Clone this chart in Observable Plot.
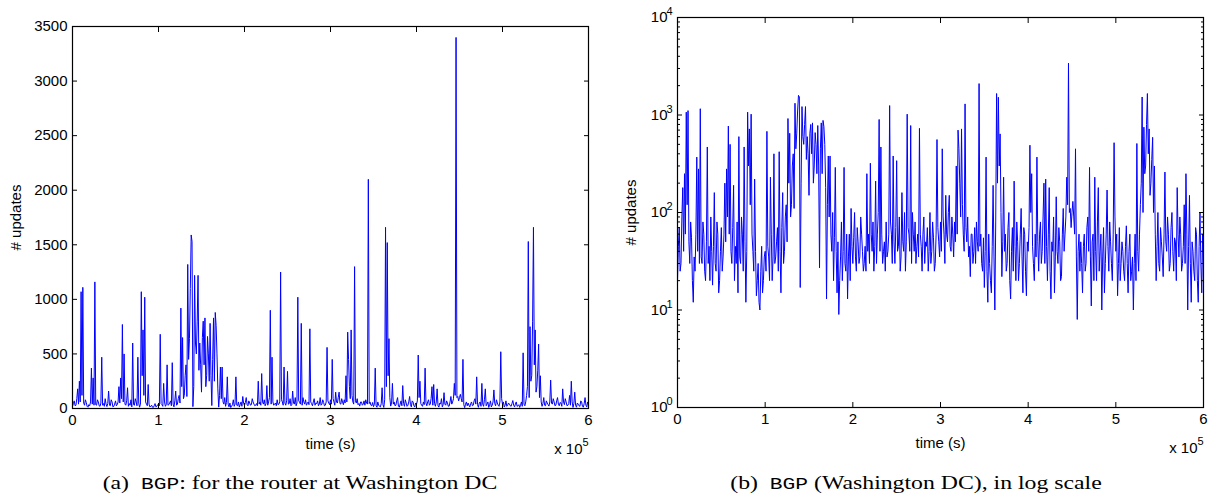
<!DOCTYPE html>
<html><head><meta charset="utf-8">
<script src="https://cdn.jsdelivr.net/npm/d3@7"></script>
<script src="https://cdn.jsdelivr.net/npm/@observablehq/plot@0.6"></script>
<style>
body{margin:0;background:#fff;width:1210px;height:497px;position:relative;overflow:hidden;font-family:"Liberation Sans",Arial,sans-serif}
.panel{position:absolute;top:0}
.cap{position:absolute;top:473px;font-family:"Liberation Serif","Times New Roman",serif;font-size:19px;line-height:20px;white-space:nowrap;transform:translateX(-50%) scaleX(1.25);color:#000}
.mono{font-family:"Liberation Mono","DejaVu Sans Mono",monospace;font-size:17px}
</style></head><body>
<div id="left" class="panel" style="left:0"></div>
<div id="right" class="panel" style="left:605px"></div>
<div class="cap" style="left:300px">(a)&nbsp; <span class="mono">BGP</span>: for the router at Washington DC</div>
<div class="cap" style="left:916px">(b)&nbsp; <span class="mono">BGP</span> (Washington DC), in log scale</div>
<script>
// sampling interval of the series (seconds)
const STEP = 1000;
// number of BGP updates per interval, router at Washington DC (t = 0 ... 6e5 s)
const updates = [
  20,45, 70,25, 30,90, 180,40, 250,60, 1070,120, 1110,50, 30,80, 55,20, 12,35,
  25,60, 370,40, 280,30, 1160,35, 30,80, 60,25, 20,50, 470,30, 45,20, 90,40,
  18,45, 160,30, 25,80, 60,15, 20,40, 70,25, 35,60, 200,50, 280,90, 770,60,
  500,40, 30,70, 190,20, 45,30, 80,15, 600,35, 30,90, 60,25, 470,50, 12,40,
  1070,300, 720,120, 1020,60, 40,25, 220,40, 14,20, 30,12, 10,25, 45,15, 20,35,
  40,25, 680,45, 35,20, 230,60, 20,35, 400,30, 35,50, 70,25, 420,40, 15,70,
  160,30, 40,90, 120,50, 920,200, 650,90, 120,300, 400,110, 1320,450, 640,1100, 1590,1530,
  17,200, 1220,600, 500,800, 1220,350, 600,400, 150,650, 800,400, 830,200, 300,660, 500,250,
  780,300, 27,450, 830,250, 880,760, 500,180, 13,120, 380,90, 380,60, 40,100, 20,55,
  290,40, 15,50, 9,20, 35,80, 20,40, 290,30, 25,60, 13,35, 60,20, 110,45,
  30,55, 100,35, 25,70, 50,30, 35,90, 60,40, 25,30, 45,25, 250,40, 60,30,
  320,60, 40,80, 25,45, 210,30, 60,100, 900,40, 470,60, 30,40, 50,25, 80,35,
  40,60, 1250,80, 60,30, 380,50, 30,70, 340,40, 45,90, 25,35, 160,50, 40,100,
  25,50, 1020,70, 60,40, 780,30, 100,60, 40,80, 30,45, 60,35, 730,60, 45,25,
  60,90, 30,50, 45,70, 25,40, 100,30, 40,80, 55,25, 30,60, 560,70, 50,35,
  80,40, 450,90, 60,30, 150,60, 50,100, 150,45, 40,90, 60,35, 80,50, 300,60,
  700,450, 200,90, 720,120, 60,40, 1300,70, 50,90, 35,45, 22,60, 60,30, 40,70,
  30,80, 50,40, 2100,45, 60,30, 25,55, 17,40, 370,25, 12,60, 30,20, 15,45,
  190,35, 10,80, 1660,200, 1520,300, 640,100, 22,50, 230,40, 60,25, 30,70, 100,20,
  13,40, 70,25, 210,45, 20,80, 50,20, 30,60, 110,35, 15,70, 60,25, 14,50,
  40,70, 490,100, 250,45, 30,20, 60,35, 370,50, 25,60, 80,30, 40,90, 200,30,
  220,45, 20,60, 180,25, 13,50, 40,90, 15,35, 145,40, 30,70, 50,20, 22,60,
  110,40, 60,90, 230,120, 3400,100, 110,70, 100,130, 90,60, 450,35, 8,40, 60,25,
  50,30, 15,45, 60,25, 30,70, 90,40, 290,35, 11,50, 60,20, 230,40, 20,80,
  180,25, 40,60, 10,35, 70,15, 30,60, 170,45, 25,80, 50,30, 20,60, 520,90,
  40,60, 14,30, 70,20, 30,50, 40,25, 20,45, 73,30, 15,40, 60,20, 25,35,
  10,30, 60,20, 510,40, 25,60, 120,200, 1530,100, 750,250, 300,800, 1660,400, 720,150,
  200,350, 590,100, 300,60, 20,45, 100,30, 25,70, 50,35, 22,60, 260,50, 40,90,
  60,25, 30,70, 100,40, 25,55, 50,20, 180,60, 35,90, 60,25, 30,45, 120,30,
  250,60, 10,45, 150,30, 12,50, 40,25, 20,70, 60,20, 12,45, 100,30, 15,60,
  30
];
const xTicks = [0, 100000, 200000, 300000, 400000, 500000, 600000];
const xTickLabels = ["0", "1", "2", "3", "4", "5", "6"];
const linTicks = [0, 500, 1000, 1500, 2000, 2500, 3000, 3500];
const logMajor = [1, 10, 100, 1000, 10000];
const logExponents = ["0", "1", "2", "3", "4"];
const logMinor = logMajor.slice(0, -1).flatMap(d => [2,3,4,5,6,7,8,9].map(k => k * d));

const data = updates.map((v, i) => ({t: i * STEP, v}));
const font = "'Liberation Sans', Arial, Helvetica, sans-serif";
const blank = () => "";
const xFmt = d => xTickLabels[xTicks.indexOf(d)];

function frameAxes(yLabelOffset) {
  return [
    Plot.frame({stroke: "#000", strokeWidth: 1.2}),
    Plot.axisX({anchor: "bottom", ticks: xTicks, tickFormat: xFmt, tickSize: -5, tickPadding: 11, label: "time (s)", labelAnchor: "center", labelOffset: 40, labelArrow: "none", fontSize: 15}),
    Plot.axisX({anchor: "top", ticks: xTicks, tickFormat: blank, tickSize: -5, label: null}),
    Plot.text(["x 10"], {text: d => d, frameAnchor: "bottom-right", dy: 45, dx: -6, textAnchor: "end", fontSize: 15}),
    Plot.text(["5"], {text: d => d, frameAnchor: "bottom-right", dy: 37, dx: 0, textAnchor: "end", fontSize: 11})
  ];
}

const left = Plot.plot({
  width: 605, height: 460,
  marginLeft: 72, marginRight: 17, marginTop: 26, marginBottom: 52,
  style: {fontFamily: font, fontSize: "15px", color: "#000", background: "#fff", overflow: "visible"},
  x: {domain: [0, 600000]},
  y: {domain: [0, 3500]},
  marks: [
    Plot.line(data, {x: "t", y: "v", stroke: "#0000ff", strokeWidth: 1}),
    ...frameAxes(62),
    Plot.axisY({anchor: "left", ticks: linTicks, tickFormat: d => String(d), tickSize: -5, tickPadding: 10, label: "# updates", labelAnchor: "center", labelOffset: 62, labelArrow: "none", fontSize: 15}),
    Plot.axisY({anchor: "right", ticks: linTicks, tickFormat: blank, tickSize: -5, label: null})
  ]
});
document.getElementById("left").appendChild(left);

const right = Plot.plot({
  width: 605, height: 460,
  marginLeft: 72, marginRight: 7, marginTop: 17, marginBottom: 53,
  style: {fontFamily: font, fontSize: "15px", color: "#000", background: "#fff", overflow: "visible"},
  x: {domain: [0, 600000]},
  y: {type: "log", domain: [1, 10000]},
  marks: [
    Plot.line(data, {x: "t", y: "v", stroke: "#0000ff", strokeWidth: 1}),
    ...frameAxes(52),
    Plot.axisY({anchor: "left", ticks: logMajor, tickFormat: () => "10", tickSize: -5, tickPadding: 15, label: "# updates", labelAnchor: "center", labelOffset: 52, labelArrow: "none", fontSize: 15}),
    Plot.text(logMajor, {y: d => d, text: d => logExponents[logMajor.indexOf(d)], frameAnchor: "left", dx: -5, dy: -6, textAnchor: "end", fontSize: 11}),
    Plot.axisY({anchor: "right", ticks: logMajor, tickFormat: blank, tickSize: -5, label: null}),
    Plot.axisY({anchor: "left", ticks: logMinor, tickFormat: blank, tickSize: -3, label: null}),
    Plot.axisY({anchor: "right", ticks: logMinor, tickFormat: blank, tickSize: -3, label: null})
  ]
});
document.getElementById("right").appendChild(right);
</script>
</body></html>
